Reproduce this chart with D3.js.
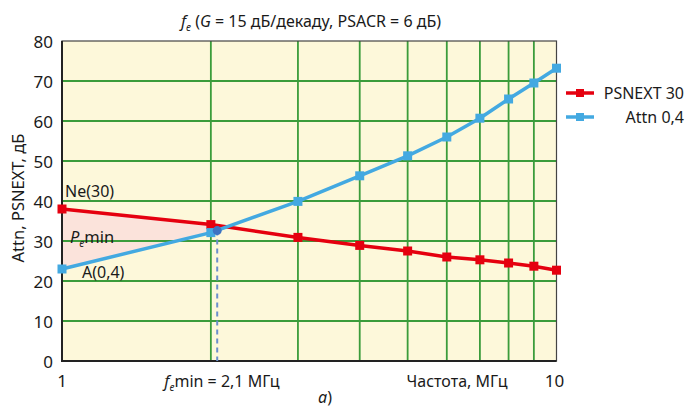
<!DOCTYPE html>
<html>
<head>
<meta charset="utf-8">
<script src="https://cdn.jsdelivr.net/npm/d3@7"></script>
<style>
  body { margin: 0; background: #fff; }
  svg text { font-family: "Noto Sans", "Open Sans", sans-serif; fill: #1a1a1a; }
</style>
</head>
<body>
<svg id="chart" width="687" height="407"></svg>
<script>
// data
const freqs = [1, 2, 3, 4, 5, 6, 7, 8, 9, 10];
const psnext = [38, 34.1, 30.9, 28.9, 27.5, 26.0, 25.3, 24.5, 23.7, 22.7];
const attn = [23, 32.1, 39.9, 46.3, 51.3, 56.0, 60.7, 65.5, 69.5, 73.2];
const yTicks = [0, 10, 20, 30, 40, 50, 60, 70, 80];
const seriesNames = ["PSNEXT 30", "Attn 0,4"];
const feMin = {f: 2.06, v: 32.6};

const svg = d3.select("#chart");
const margin = {top: 41, right: 131, bottom: 46, left: 62};
const W = 687, H = 407;

const x = d3.scaleLog().domain([1, 10]).range([margin.left, W - margin.right + 0.5]);
const y = d3.scaleLinear().domain([0, 80]).range([H - margin.bottom, margin.top]);

const red = "#e5000f", blue = "#43a9e1", green = "#3b9c3b";

// background
svg.append("rect")
  .attr("x", x(1)).attr("y", y(80))
  .attr("width", x(10) - x(1)).attr("height", y(0) - y(80))
  .attr("fill", "#fdf8da");

// shaded area between the lines up to the crossing
const xCross = 2.2;
const interp = (arr, f) => {
  const lf = Math.log10(f);
  const i = freqs.findIndex(v => v > f) - 1;
  const t = (lf - Math.log10(freqs[i])) / (Math.log10(freqs[i + 1]) - Math.log10(freqs[i]));
  return arr[i] + t * (arr[i + 1] - arr[i]);
};
const areaPts = [[1, psnext[0]], [2, psnext[1]], [xCross, interp(psnext, xCross)], [2, attn[1]], [1, attn[0]]];
svg.append("path")
  .attr("d", d3.line().x(d => x(d[0])).y(d => y(d[1]))(areaPts) + "Z")
  .attr("fill", "#fbe3db");

// grid
svg.append("g").selectAll("line")
  .data(yTicks.filter(d => d > 0 && d < 80))
  .join("line")
  .attr("x1", x(1)).attr("x2", x(10))
  .attr("y1", d => y(d)).attr("y2", d => y(d))
  .attr("stroke", green).attr("stroke-width", 1.8);
svg.append("g").selectAll("line")
  .data(freqs.filter(d => d > 1 && d < 10))
  .join("line")
  .attr("x1", d => x(d)).attr("x2", d => x(d))
  .attr("y1", y(0)).attr("y2", y(80))
  .attr("stroke", green).attr("stroke-width", 1.8);

// frame
svg.append("rect")
  .attr("x", x(1)).attr("y", y(80))
  .attr("width", x(10) - x(1)).attr("height", y(0) - y(80))
  .attr("fill", "none").attr("stroke", "#444").attr("stroke-width", 1.2);
svg.append("path")
  .attr("d", `M${x(1)},${y(80)}V${y(0)}H${x(10)}`)
  .attr("fill", "none").attr("stroke", "#222").attr("stroke-width", 2);

// y axis ticks
const yAxis = svg.append("g")
  .attr("transform", `translate(${x(1)},0)`)
  .call(d3.axisLeft(y).tickValues(yTicks).tickSize(0).tickPadding(9));
yAxis.select(".domain").remove();
yAxis.selectAll("text").attr("font-size", 17).attr("dy", "0.36em")
  .style("font-family", "'Noto Sans', sans-serif").style("fill", "#1a1a1a");

// dashed drop line
svg.append("line")
  .attr("x1", x(feMin.f)).attr("x2", x(feMin.f))
  .attr("y1", y(feMin.v)).attr("y2", y(0))
  .attr("stroke", "#6a8fcc").attr("stroke-width", 2).attr("stroke-dasharray", "5,4");

// series
const series = [
  {name: seriesNames[0], vals: psnext, color: red},
  {name: seriesNames[1], vals: attn, color: blue}
];
const line = d3.line().x(d => x(d[0])).y(d => y(d[1]));
series.forEach(s => {
  const pts = freqs.map((f, i) => [f, s.vals[i]]);
  svg.append("path").attr("d", line(pts))
    .attr("fill", "none").attr("stroke", s.color).attr("stroke-width", 3.5);
  svg.append("g").selectAll("rect").data(pts).join("rect")
    .attr("x", d => x(d[0]) - 4.5).attr("y", d => y(d[1]) - 4.5)
    .attr("width", 9).attr("height", 9).attr("fill", s.color);
});

// intersection dot
svg.append("circle")
  .attr("cx", x(feMin.f)).attr("cy", y(feMin.v)).attr("r", 4.5)
  .attr("fill", "#3d73c2");

// title
const title = svg.append("text").attr("x", 311).attr("y", 27)
  .attr("text-anchor", "middle").attr("font-size", 16);
title.append("tspan").attr("font-style", "italic").text("f");
title.append("tspan").attr("font-style", "italic").attr("font-size", 10).attr("dy", 4).text("e");
title.append("tspan").attr("dy", -4).text(" (");
title.append("tspan").attr("font-style", "italic").text("G");
title.append("tspan").text(" = 15 дБ/декаду, PSACR = 6 дБ)");

// y label
svg.append("text")
  .attr("transform", `translate(24,198) rotate(-90)`)
  .attr("text-anchor", "middle").attr("font-size", 16.5)
  .text("Attn, PSNEXT, дБ");

// x labels
const xl = 387;
svg.append("text").attr("x", x(1)).attr("y", xl).attr("text-anchor", "middle")
  .attr("font-size", 17).text("1");
svg.append("text").attr("x", x(10) - 2).attr("y", xl).attr("text-anchor", "middle")
  .attr("font-size", 17).text("10");
const fe = svg.append("text").attr("x", 222).attr("y", xl).attr("text-anchor", "middle")
  .attr("font-size", 16);
fe.append("tspan").attr("font-style", "italic").text("f");
fe.append("tspan").attr("font-style", "italic").attr("font-size", 10).attr("dy", 4).text("e");
fe.append("tspan").attr("dy", -4).text("min = 2,1 МГц");
svg.append("text").attr("x", 457).attr("y", xl).attr("text-anchor", "middle")
  .attr("font-size", 16).text("Частота, МГц");
const a = svg.append("text").attr("x", 325).attr("y", 403).attr("text-anchor", "middle")
  .attr("font-size", 16);
a.append("tspan").attr("font-style", "italic").text("a");
a.append("tspan").text(")");

// annotations
svg.append("text").attr("x", 65).attr("y", 197).attr("font-size", 16).text("Ne(30)");
const pe = svg.append("text").attr("x", 70).attr("y", 243).attr("font-size", 16.5);
pe.append("tspan").attr("font-style", "italic").text("P");
pe.append("tspan").attr("font-style", "italic").attr("font-size", 10).attr("dy", 4).text("e");
pe.append("tspan").attr("dy", -4).text("min");
svg.append("text").attr("x", 82).attr("y", 278).attr("font-size", 16).text("A(0,4)");

// legend
const leg = svg.append("g");
series.forEach((s, i) => {
  const ly = 93 + i * 24;
  leg.append("line").attr("x1", 566).attr("x2", 594).attr("y1", ly).attr("y2", ly)
    .attr("stroke", s.color).attr("stroke-width", 3.5);
  leg.append("rect").attr("x", 576).attr("y", ly - 4).attr("width", 8).attr("height", 8)
    .attr("fill", s.color);
  leg.append("text").attr("x", 684).attr("y", ly + 6).attr("text-anchor", "end")
    .attr("font-size", 16).text(s.name);
});
</script>
</body>
</html>
